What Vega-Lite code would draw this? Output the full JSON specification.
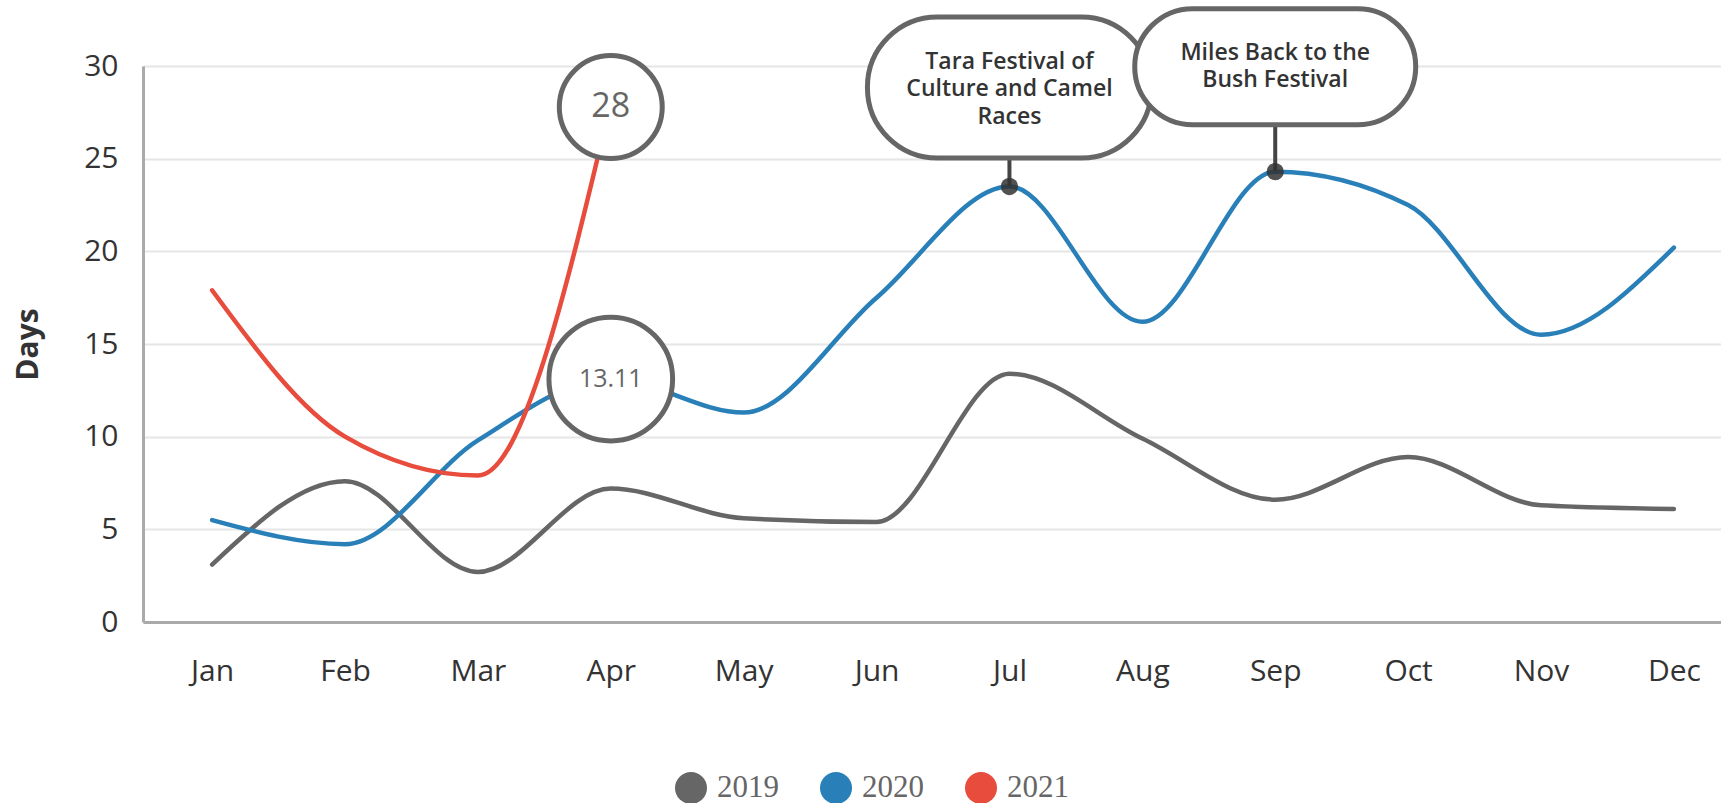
{
  "$schema": "https://vega.github.io/schema/vega-lite/v6.json",
  "autosize": {"type": "none"},
  "padding": {"left": 143, "top": 66, "right": 0, "bottom": 181},
  "width": 1600,
  "height": 556,
  "background": "white",
  "datasets": {
    "series": [
      {"month": "Jan", "year": "2019", "days": 3.1},
      {"month": "Feb", "year": "2019", "days": 7.6},
      {"month": "Mar", "year": "2019", "days": 2.7},
      {"month": "Apr", "year": "2019", "days": 7.2},
      {"month": "May", "year": "2019", "days": 5.6},
      {"month": "Jun", "year": "2019", "days": 5.4},
      {"month": "Jul", "year": "2019", "days": 13.4},
      {"month": "Aug", "year": "2019", "days": 9.9},
      {"month": "Sep", "year": "2019", "days": 6.6},
      {"month": "Oct", "year": "2019", "days": 8.9},
      {"month": "Nov", "year": "2019", "days": 6.3},
      {"month": "Dec", "year": "2019", "days": 6.1},
      {"month": "Jan", "year": "2020", "days": 5.5},
      {"month": "Feb", "year": "2020", "days": 4.2},
      {"month": "Mar", "year": "2020", "days": 9.8},
      {"month": "Apr", "year": "2020", "days": 13.11},
      {"month": "May", "year": "2020", "days": 11.3},
      {"month": "Jun", "year": "2020", "days": 17.5},
      {"month": "Jul", "year": "2020", "days": 23.5},
      {"month": "Aug", "year": "2020", "days": 16.2},
      {"month": "Sep", "year": "2020", "days": 24.3},
      {"month": "Oct", "year": "2020", "days": 22.5},
      {"month": "Nov", "year": "2020", "days": 15.5},
      {"month": "Dec", "year": "2020", "days": 20.2},
      {"month": "Jan", "year": "2021", "days": 17.9},
      {"month": "Feb", "year": "2021", "days": 10.0},
      {"month": "Mar", "year": "2021", "days": 7.9},
      {"month": "Apr", "year": "2021", "days": 28}
    ],
    "events": [
      {"month": "Jul", "days": 23.5, "event": "Tara", "label": "Tara Festival of\nCulture and Camel\nRaces"},
      {"month": "Sep", "days": 24.3, "event": "Miles", "label": "Miles Back to the\nBush Festival"}
    ],
    "highlights": [
      {"month": "Apr", "days": 28, "label": "28", "kind": "big"},
      {"month": "Apr", "days": 13.11, "label": "13.11", "kind": "small"}
    ]
  },
  "config": {
    "view": {"stroke": null},
    "axis": {
      "labelFont": "Open Sans",
      "labelColor": "#333333",
      "labelFontSize": 30,
      "ticks": false,
      "domainColor": "#aaaaaa",
      "domainWidth": 3,
      "gridColor": "#e6e6e6",
      "gridWidth": 2
    }
  },
  "encoding": {
    "x": {
      "field": "month", "type": "ordinal",
      "scale": {"type": "point", "padding": 0.52, "domain": ["Jan", "Feb", "Mar", "Apr", "May", "Jun", "Jul", "Aug", "Sep", "Oct", "Nov", "Dec"]},
      "axis": {"title": null, "labelAngle": 0, "labelPadding": 34, "grid": false}
    },
    "y": {
      "field": "days", "type": "quantitative",
      "scale": {"domain": [0, 30], "nice": false},
      "axis": {
        "title": "Days", "values": [0, 5, 10, 15, 20, 25, 30], "labelPadding": 25,
        "titleFont": "Open Sans", "titleFontSize": 30, "titleFontWeight": "bold", "titleColor": "#333333",
        "titleAngle": 270, "titleX": -115, "titleY": 278, "titleAlign": "center", "titleBaseline": "middle"
      }
    }
  },
  "layer": [
    {
      "data": {"name": "series"},
      "mark": {"type": "line", "interpolate": "monotone", "strokeWidth": 4.5, "strokeCap": "round"},
      "encoding": {
        "color": {
          "field": "year", "type": "nominal",
          "scale": {"domain": ["2019", "2020", "2021"], "range": ["#666666", "#2980b9", "#e74c3c"]},
          "legend": {
            "title": null, "orient": "none", "direction": "horizontal",
            "legendX": 532, "legendY": 706, "padding": 0,
            "symbolType": "circle", "symbolSize": 1024, "symbolStrokeWidth": 0,
            "labelFont": "Liberation Serif", "labelFontSize": 31, "labelColor": "#666666",
            "labelOffset": 10, "columnPadding": 41,
            "encode": {"symbols": {"update": {"fill": {"scale": "color", "field": "value"}, "strokeWidth": {"value": 0}}}}
          }
        }
      }
    },
    {
      "data": {"name": "highlights"},
      "transform": [{"filter": "datum.kind === 'small'"}],
      "mark": {"type": "point", "shape": "circle", "filled": true, "fill": "white", "stroke": "#666666", "strokeWidth": 5, "size": 15300, "opacity": 1}
    },
    {
      "data": {"name": "highlights"},
      "transform": [{"filter": "datum.kind === 'big'"}],
      "mark": {"type": "point", "shape": "circle", "filled": true, "fill": "white", "stroke": "#666666", "strokeWidth": 5, "size": 10600, "opacity": 1, "yOffset": 4}
    },
    {
      "data": {"name": "highlights"},
      "transform": [{"filter": "datum.kind === 'small'"}],
      "mark": {"type": "text", "font": "Open Sans", "fontSize": 25, "color": "#666666", "baseline": "middle", "align": "center"},
      "encoding": {"text": {"field": "label"}}
    },
    {
      "data": {"name": "highlights"},
      "transform": [{"filter": "datum.kind === 'big'"}],
      "mark": {"type": "text", "font": "Open Sans", "fontSize": 34, "color": "#666666", "baseline": "middle", "align": "center", "yOffset": 4},
      "encoding": {"text": {"field": "label"}}
    },
    {
      "data": {"name": "events"},
      "transform": [{"filter": "datum.event === 'Tara'"}],
      "mark": {"type": "rule", "color": "#444444", "strokeWidth": 4, "y2Offset": -28},
      "encoding": {"y2": {"field": "days"}}
    },
    {
      "data": {"name": "events"},
      "transform": [{"filter": "datum.event === 'Miles'"}],
      "mark": {"type": "rule", "color": "#444444", "strokeWidth": 4, "y2Offset": -47},
      "encoding": {"y2": {"field": "days"}}
    },
    {
      "data": {"name": "events"},
      "mark": {"type": "point", "shape": "circle", "filled": true, "color": "#333333", "opacity": 0.85, "size": 300}
    },
    {
      "data": {"name": "events"},
      "transform": [{"filter": "datum.event === 'Tara'"}],
      "mark": {"type": "bar", "width": 284, "cornerRadius": 70, "fill": "white", "stroke": "#666666", "strokeWidth": 5, "yOffset": -28.5, "y2Offset": -169.5},
      "encoding": {"y2": {"field": "days"}}
    },
    {
      "data": {"name": "events"},
      "transform": [{"filter": "datum.event === 'Tara'"}],
      "mark": {"type": "text", "font": "Open Sans", "fontWeight": 600, "fontSize": 23, "color": "#333333", "lineBreak": "\n", "lineHeight": 27.5, "baseline": "middle", "align": "center", "yOffset": -124.5},
      "encoding": {"text": {"field": "label"}}
    },
    {
      "data": {"name": "events"},
      "transform": [{"filter": "datum.event === 'Miles'"}],
      "mark": {"type": "bar", "width": 281, "cornerRadius": 58, "fill": "white", "stroke": "#666666", "strokeWidth": 5, "yOffset": -47, "y2Offset": -163},
      "encoding": {"y2": {"field": "days"}}
    },
    {
      "data": {"name": "events"},
      "transform": [{"filter": "datum.event === 'Miles'"}],
      "mark": {"type": "text", "font": "Open Sans", "fontWeight": 600, "fontSize": 23, "color": "#333333", "lineBreak": "\n", "lineHeight": 27.5, "baseline": "middle", "align": "center", "yOffset": -118.7},
      "encoding": {"text": {"field": "label"}}
    }
  ]
}
